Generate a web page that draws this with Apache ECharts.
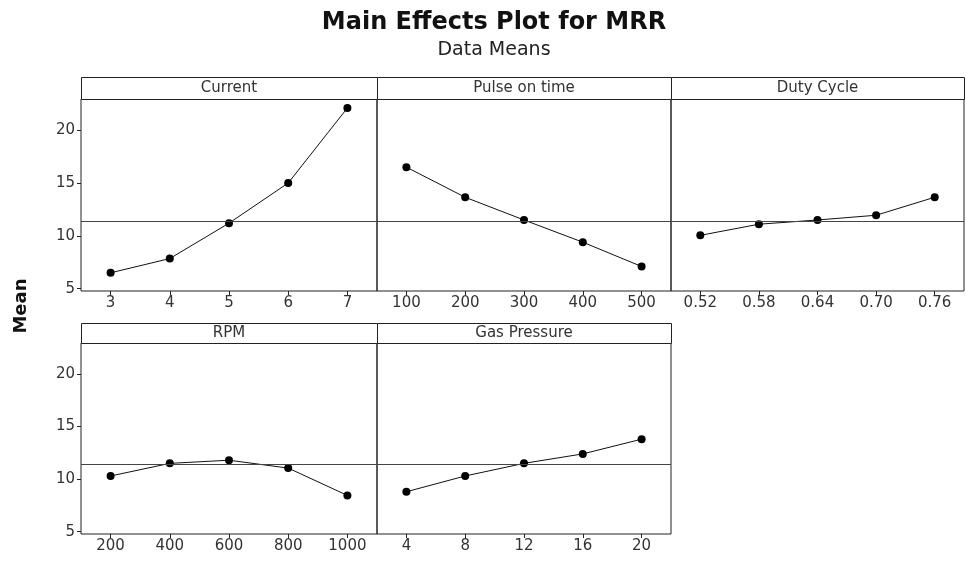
<!DOCTYPE html>
<html>
<head>
<meta charset="utf-8">
<script src="https://cdn.jsdelivr.net/npm/echarts@6/dist/echarts.min.js"></script>
<style>html,body{margin:0;padding:0;background:#fff}#c{width:966px;height:566px}</style>
</head>
<body>
<div id="c"></div>
<script>
const factorNames = ['Current', 'Pulse on time', 'Duty Cycle', 'RPM', 'Gas Pressure'];
const currentLevels = ['3', '4', '5', '6', '7'];
const currentMeans = [6.5, 7.85, 11.2, 15.0, 22.1];
const pulseLevels = ['100', '200', '300', '400', '500'];
const pulseMeans = [16.5, 13.65, 11.5, 9.4, 7.1];
const dutyLevels = ['0.52', '0.58', '0.64', '0.70', '0.76'];
const dutyMeans = [10.05, 11.1, 11.5, 11.95, 13.65];
const rpmLevels = ['200', '400', '600', '800', '1000'];
const rpmMeans = [10.3, 11.5, 11.8, 11.05, 8.45];
const gasLevels = ['4', '8', '12', '16', '20'];
const gasMeans = [8.8, 10.3, 11.5, 12.4, 13.8];
const grandMean = 11.4;
const yTickValues = [5, 10, 15, 20];

const levels = [currentLevels, pulseLevels, dutyLevels, rpmLevels, gasLevels];
const means = [currentMeans, pulseMeans, dutyMeans, rpmMeans, gasMeans];

const FONT = '"DejaVu Sans", Verdana, sans-serif';
const lefts = [81, 377, 671];
const widths = [296, 294, 293];
const rows = [{hTop: 77, top: 99, h: 192}, {hTop: 323, top: 343, h: 191}];
const pos = [[0,0],[0,1],[0,2],[1,0],[1,1]];

const grids = [], xAxes = [], yAxes = [], series = [], graphics = [];
pos.forEach((p, i) => {
  const r = rows[p[0]], c = p[1];
  grids.push({left: lefts[c], top: r.top, width: widths[c], height: r.h,
    show: true, borderColor: '#222', borderWidth: 1, containLabel: false});
  xAxes.push({type: 'category', gridIndex: i, data: levels[i], boundaryGap: true,
    axisLine: {show: false},
    axisTick: {show: true, alignWithLabel: true, length: 4, lineStyle: {color: '#222'}},
    axisLabel: {color: '#333', fontFamily: FONT, fontSize: 15, margin: 5},
    splitLine: {show: false}});
  const leftCol = c === 0;
  yAxes.push({type: 'value', gridIndex: i, min: 4.78, max: 22.95,
    axisLine: {show: false},
    axisTick: {show: leftCol, length: 4, lineStyle: {color: '#222'}, customValues: yTickValues},
    axisLabel: {show: leftCol, color: '#333', fontFamily: FONT, fontSize: 15, margin: 6, customValues: yTickValues},
    splitLine: {show: false}});
  series.push({type: 'line', xAxisIndex: i, yAxisIndex: i, data: means[i],
    symbol: 'circle', symbolSize: 8, itemStyle: {color: '#000'},
    lineStyle: {color: '#111', width: 1}, animation: false,
    markLine: {silent: true, symbol: 'none', label: {show: false},
      lineStyle: {color: '#444', width: 1, type: 'solid'},
      data: [{yAxis: grandMean}], animation: false}});
  graphics.push({type: 'rect', shape: {x: lefts[c] + 0.5, y: r.hTop + 0.5, width: widths[c], height: r.top - r.hTop},
    style: {fill: '#fff', stroke: '#222', lineWidth: 1}, z: 10});
  graphics.push({type: 'text', x: lefts[c] + widths[c] / 2, y: (r.hTop + r.top) / 2 + 0.5, z: 11,
    style: {text: factorNames[i], font: '15px ' + FONT, fill: '#333',
      align: 'center', verticalAlign: 'middle', textAlign: 'center', textVerticalAlign: 'middle'}});
});
graphics.push({type: 'text', x: 494, y: 23, z: 11,
  style: {text: 'Main Effects Plot for MRR', font: 'bold 24px ' + FONT, fill: '#111',
    align: 'center', verticalAlign: 'middle', textAlign: 'center', textVerticalAlign: 'middle'}});
graphics.push({type: 'text', x: 494, y: 50, z: 11,
  style: {text: 'Data Means', font: '19px ' + FONT, fill: '#222',
    align: 'center', verticalAlign: 'middle', textAlign: 'center', textVerticalAlign: 'middle'}});
graphics.push({type: 'text', x: 21, y: 306, rotation: Math.PI / 2, z: 11,
  style: {text: 'Mean', font: 'bold 18px ' + FONT, fill: '#111',
    align: 'center', verticalAlign: 'middle', textAlign: 'center', textVerticalAlign: 'middle'}});

const chart = echarts.init(document.getElementById('c'));
chart.setOption({
  animation: false,
  backgroundColor: '#fff',
  grid: grids, xAxis: xAxes, yAxis: yAxes, series: series,
  graphic: {elements: graphics}
});
</script>
</body>
</html>
